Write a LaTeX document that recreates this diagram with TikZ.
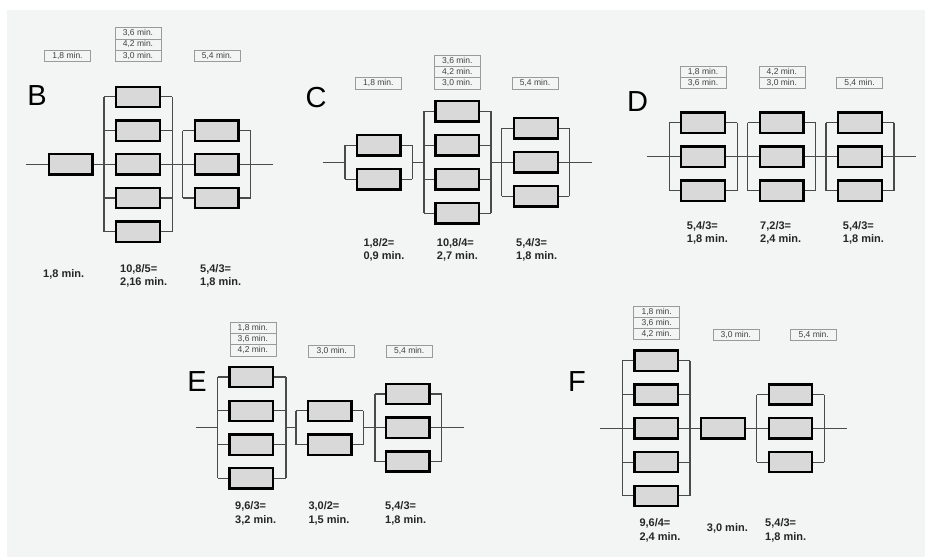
\documentclass[tikz,border=0pt]{standalone}
\usepackage{fontspec}
\setmainfont{Liberation Sans}
\definecolor{bg}{HTML}{F3F5F5}
\definecolor{boxgray}{HTML}{D9D9D9}
\definecolor{wiregray}{HTML}{4A4A4A}
\definecolor{taggray}{HTML}{9A9A9A}
\newcommand\pgroup[6]{% #1 prefix, #2 box x, #3 left bus x, #4 right bus x, #5 main y, #6 list of y
  \coordinate (#1L) at (#3,#5);
  \coordinate (#1R) at (#4,#5);
  \foreach \yy [count=\i, remember=\i as \j (initially 0)] in {#6} {
    \node[res] (#1-\i) at (#2,\yy) {};
    \draw[wire] (#1-\i.west -| #1L) -- (#1-\i.west);
    \draw[wire] (#1-\i.east) -- (#1-\i.east -| #1R);
    \ifnum\i>1
      \draw[wire] (#1-\j.west -| #1L) -- (#1-\i.west -| #1L);
      \draw[wire] (#1-\j.east -| #1R) -- (#1-\i.east -| #1R);
    \fi
  }
}
\begin{document}
\begin{tikzpicture}[x=1pt,y=-1pt,
  res/.style={draw=black,line width=2.3pt,fill=boxgray,minimum width=43.6pt,minimum height=20.2pt,inner sep=0pt},
  wire/.style={draw=wiregray,line width=1.1pt},
  tag/.style={draw=taggray,line width=0.6pt,minimum width=46pt,minimum height=11.2pt,inner sep=0pt,font=\fontsize{8.5}{9}\selectfont,text=black!75},
  val/.style={anchor=north west,align=left,inner sep=0pt,font=\bfseries\fontsize{11}{13.4}\selectfont,text=black!85},
  letter/.style={font=\fontsize{29}{30}\selectfont,inner sep=0pt}]
\useasboundingbox (0,0) rectangle (925,557);
\fill[white] (0,0) rectangle (925,557);
\fill[bg] (7,10) rectangle (925,557);

% ---------------- B ----------------
\node[letter] (lB) at (37,96) {B};
\node[tag] (tB1) at (67.5,55.5) {1,8 min.};
\node[tag] (tB2a) at (138,33.2) {3,6 min.};
\node[tag] (tB2b) at (138,44.4) {4,2 min.};
\node[tag] (tB2c) at (138,55.6) {3,0 min.};
\node[tag] (tB3) at (217,55.6) {5,4 min.};
\coordinate (Bin) at (26,164.3);
\coordinate (Bout) at (272.7,164.3);
\node[res] (Bs) at (70.8,164.3) {};
\pgroup{B2}{138}{104}{172.3}{164.3}{96.9,130.6,164.3,198,231.7}
\pgroup{B3}{216.7}{182.7}{250.7}{164.3}{130.6,164.3,198}
\draw[wire] (Bin) -- (Bs.west);
\draw[wire] (Bs.east) -- (B2L);
\draw[wire] (B2R) -- (B3L);
\draw[wire] (B3R) -- (Bout);
\node[val] (vB1) at (43,269) {1,8 min.};
\node[val] (vB2) at (120,264.3) {10,8/5=\\2,16 min.};
\node[val] (vB3) at (200,264.3) {5,4/3=\\1,8 min.};

% ---------------- C ----------------
\node[letter] (lC) at (316,98) {C};
\node[tag] (tC1) at (378.3,83.3) {1,8 min.};
\node[tag] (tC2a) at (457.3,60.9) {3,6 min.};
\node[tag] (tC2b) at (457.3,72.1) {4,2 min.};
\node[tag] (tC2c) at (457.3,83.3) {3,0 min.};
\node[tag] (tC3) at (535,83.3) {5,4 min.};
\coordinate (Cin) at (322.7,162.3);
\coordinate (Cout) at (592.3,162.3);
\pgroup{C1}{378.7}{345}{412.3}{162.3}{145.3,179.3}
\pgroup{C2}{457.3}{424}{491}{162.3}{111.3,145.3,179.3,213.3}
\pgroup{C3}{536}{501.7}{569.3}{162.3}{128.3,162.3,196.3}
\draw[wire] (Cin) -- (C1L);
\draw[wire] (C1R) -- (C2L);
\draw[wire] (C2R) -- (C3L);
\draw[wire] (C3R) -- (Cout);
\node[val] (vC1) at (363.3,238.3) {1,8/2=\\0,9 min.};
\node[val] (vC2) at (436.7,238.3) {10,8/4=\\2,7 min.};
\node[val] (vC3) at (516,238.3) {5,4/3=\\1,8 min.};

% ---------------- D ----------------
\node[letter] (lD) at (637.5,102) {D};
\node[tag] (tD1a) at (703,71.6) {1,8 min.};
\node[tag] (tD1b) at (703,82.8) {3,6 min.};
\node[tag] (tD2a) at (781.8,71.6) {4,2 min.};
\node[tag] (tD2b) at (781.8,82.8) {3,0 min.};
\node[tag] (tD3) at (859.5,82.8) {5,4 min.};
\coordinate (Din) at (647.3,156.7);
\coordinate (Dout) at (916,156.7);
\pgroup{D1}{703}{669.3}{737.3}{156.7}{122.7,156.7,190.7}
\pgroup{D2}{781.8}{747.7}{815.7}{156.7}{122.7,156.7,190.7}
\pgroup{D3}{860}{826}{894}{156.7}{122.7,156.7,190.7}
\draw[wire] (Din) -- (D1L);
\draw[wire] (D1R) -- (D2L);
\draw[wire] (D2R) -- (D3L);
\draw[wire] (D3R) -- (Dout);
\node[val] (vD1) at (686.7,221) {5,4/3=\\1,8 min.};
\node[val] (vD2) at (760,221) {7,2/3=\\2,4 min.};
\node[val] (vD3) at (842.7,221) {5,4/3=\\1,8 min.};

% ---------------- E ----------------
\node[letter] (lE) at (197,382) {E};
\node[tag] (tE1a) at (252.8,327.9) {1,8 min.};
\node[tag] (tE1b) at (252.8,339.1) {3,6 min.};
\node[tag] (tE1c) at (252.8,350.3) {4,2 min.};
\node[tag] (tE2) at (331.7,351.2) {3,0 min.};
\node[tag] (tE3) at (409.2,351.2) {5,4 min.};
\coordinate (Ein) at (195.7,427.7);
\coordinate (Eout) at (464.3,427.7);
\pgroup{E1}{251.3}{217.7}{286}{427.7}{377,410.8,444.6,478.4}
\pgroup{E2}{329.7}{296}{363.3}{427.7}{410.8,444.6}
\pgroup{E3}{407.8}{375}{441.7}{427.7}{394,427.7,461.5}
\draw[wire] (Ein) -- (E1L);
\draw[wire] (E1R) -- (E2L);
\draw[wire] (E2R) -- (E3L);
\draw[wire] (E3R) -- (Eout);
\node[val] (vE1) at (235,501.7) {9,6/3=\\3,2 min.};
\node[val] (vE2) at (308.3,501.7) {3,0/2=\\1,5 min.};
\node[val] (vE3) at (385,501.7) {5,4/3=\\1,8 min.};

% ---------------- F ----------------
\node[letter] (lF) at (577,382) {F};
\node[tag] (tF1a) at (656.7,311.7) {1,8 min.};
\node[tag] (tF1b) at (656.7,322.9) {3,6 min.};
\node[tag] (tF1c) at (656.7,334.1) {4,2 min.};
\node[tag] (tF2) at (735.8,334.7) {3,0 min.};
\node[tag] (tF3) at (813.7,334.7) {5,4 min.};
\coordinate (Fin) at (600,428.3);
\coordinate (Fout) at (847.3,428.3);
\pgroup{F1}{656.2}{622.3}{690}{428.3}{360.7,394.5,428.3,462.1,495.9}
\node[res] (Fs) at (723,428.3) {};
\pgroup{F3}{790.5}{756.7}{824.3}{428.3}{394.5,428.3,462.1}
\draw[wire] (Fin) -- (F1L);
\draw[wire] (F1R) -- (Fs.west);
\draw[wire] (Fs.east) -- (F3L);
\draw[wire] (F3R) -- (Fout);
\node[val] (vF1) at (639.3,518.7) {9,6/4=\\2,4 min.};
\node[val] (vF2) at (706.7,523.7) {3,0 min.};
\node[val] (vF3) at (765,518.7) {5,4/3=\\1,8 min.};
\end{tikzpicture}
\end{document}
